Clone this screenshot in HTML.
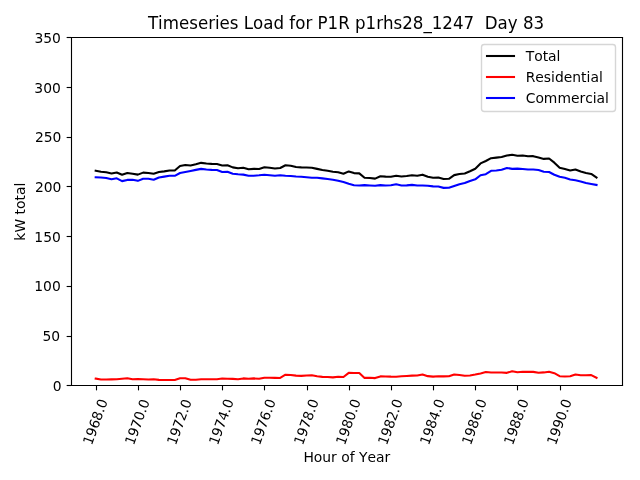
<!DOCTYPE html><html><head><meta charset="utf-8"><title>Timeseries Load</title><style>html,body{margin:0;padding:0;background:#fff;overflow:hidden}svg{display:block;will-change:transform}text{font-family:"DejaVu Sans","Liberation Sans",sans-serif;font-kerning:none;white-space:pre}</style></head><body>
<svg width="640" height="480" viewBox="0 0 640 480">
<rect x="0" y="0" width="640" height="480" fill="#ffffff"/>
<g fill="none" stroke-width="2.0833" stroke-linejoin="round" stroke-linecap="square">
<polyline stroke="#000000" points="95.68,170.66 100.95,171.79 106.22,172.32 111.50,173.41 116.77,172.42 122.04,174.69 127.31,172.96 132.58,173.82 137.86,174.61 143.13,172.62 148.40,173.04 153.67,173.74 158.94,172.06 164.22,171.36 169.49,170.54 174.76,170.54 180.03,165.99 185.30,165.02 190.58,165.57 195.85,164.34 201.12,162.87 206.39,163.54 211.66,163.91 216.94,163.97 222.21,165.42 227.48,165.34 232.75,167.39 238.02,168.29 243.30,167.79 248.57,169.22 253.84,168.89 259.11,168.92 264.38,167.26 269.66,167.79 274.93,168.49 280.20,167.99 285.47,165.27 290.74,165.72 296.02,166.96 301.29,167.39 306.56,167.49 311.83,167.72 317.10,168.89 322.38,170.02 327.65,170.82 332.92,171.79 338.19,172.26 343.46,173.82 348.74,171.42 354.01,173.09 359.28,173.36 364.55,177.79 369.82,178.01 375.10,178.59 380.37,176.29 385.64,176.64 390.91,176.74 396.18,175.79 401.46,176.51 406.73,176.07 412.00,175.26 417.27,175.72 422.54,174.66 427.82,176.74 433.09,177.76 438.36,177.59 443.63,179.02 448.90,178.79 454.18,175.12 459.45,174.02 464.72,173.49 469.99,171.26 475.26,168.69 480.54,163.39 485.81,160.96 491.08,158.17 496.35,157.66 501.62,157.06 506.90,155.56 512.17,154.81 517.44,155.71 522.71,155.44 527.98,156.19 533.26,156.14 538.53,157.56 543.80,158.89 549.07,158.54 554.34,162.69 559.62,167.79 564.89,169.01 570.16,170.54 575.43,169.59 580.70,171.57 585.98,173.02 591.25,173.91 596.52,177.46"/>
<polyline stroke="#ff0000" points="95.68,378.60 100.95,379.56 106.22,379.53 111.50,379.40 116.77,379.33 122.04,378.81 127.31,378.30 132.58,379.33 137.86,379.00 143.13,379.18 148.40,379.46 153.67,379.26 158.94,379.85 164.22,379.95 169.49,379.96 174.76,379.96 180.03,378.21 185.30,378.23 190.58,379.83 195.85,379.71 201.12,379.23 206.39,379.31 211.66,379.25 216.94,379.18 222.21,378.58 227.48,378.81 232.75,378.91 238.02,379.21 243.30,378.41 248.57,378.73 253.84,378.41 259.11,378.83 264.38,377.70 269.66,377.76 274.93,377.91 280.20,377.96 285.47,374.73 290.74,375.03 296.02,375.65 301.29,375.86 306.56,375.46 311.83,375.28 317.10,376.31 322.38,376.88 327.65,377.03 332.92,377.36 338.19,376.75 343.46,376.98 348.74,372.88 354.01,373.01 359.28,373.05 364.55,377.91 369.82,377.80 375.10,378.11 380.37,376.41 385.64,376.46 390.91,376.66 396.18,376.71 401.46,376.30 406.73,375.93 412.00,375.65 417.27,375.53 422.54,374.45 427.82,376.16 433.09,376.60 438.36,376.31 443.63,376.38 448.90,376.31 454.18,374.43 459.45,375.03 464.72,375.76 469.99,375.55 475.26,374.56 480.54,373.41 485.81,372.05 491.08,372.58 496.35,372.45 501.62,372.55 506.90,372.85 512.17,371.20 517.44,372.30 522.71,371.76 527.98,371.91 533.26,371.86 538.53,372.75 543.80,372.41 549.07,371.81 554.34,373.21 559.62,376.21 564.89,376.45 570.16,376.31 575.43,374.56 580.70,375.28 585.98,375.23 591.25,375.15 596.52,377.75"/>
<polyline stroke="#0000ff" points="95.68,177.30 100.95,177.47 106.22,178.03 111.50,179.25 116.77,178.33 122.04,181.12 127.31,179.90 132.58,179.73 137.86,180.85 143.13,178.68 148.40,178.82 153.67,179.72 158.94,177.45 164.22,176.65 169.49,175.82 174.76,175.82 180.03,173.02 185.30,172.03 190.58,170.98 195.85,169.87 201.12,168.88 206.39,169.47 211.66,169.90 216.94,170.03 222.21,172.08 227.48,171.77 232.75,173.72 238.02,174.32 243.30,174.62 248.57,175.73 253.84,175.72 259.11,175.33 264.38,174.80 269.66,175.27 274.93,175.82 280.20,175.27 285.47,175.78 290.74,175.93 296.02,176.55 301.29,176.77 306.56,177.27 311.83,177.68 317.10,177.82 322.38,178.38 327.65,179.03 332.92,179.67 338.19,180.75 343.46,182.08 348.74,183.78 354.01,185.32 359.28,185.55 364.55,185.12 369.82,185.45 375.10,185.72 380.37,185.12 385.64,185.42 390.91,185.32 396.18,184.32 401.46,185.45 406.73,185.38 412.00,184.85 417.27,185.43 422.54,185.45 427.82,185.82 433.09,186.40 438.36,186.52 443.63,187.88 448.90,187.72 454.18,185.93 459.45,184.23 464.72,182.97 469.99,180.95 475.26,179.37 480.54,175.22 485.81,174.15 491.08,170.83 496.35,170.45 501.62,169.75 506.90,167.95 512.17,168.85 517.44,168.65 522.71,168.92 527.98,169.52 533.26,169.52 538.53,170.05 543.80,171.72 549.07,171.97 554.34,174.72 559.62,176.82 564.89,177.80 570.16,179.47 575.43,180.27 580.70,181.53 585.98,183.03 591.25,184.00 596.52,184.95"/>
</g>
<g stroke="#000000" stroke-width="1.1111" stroke-linecap="square" fill="none">
<line x1="71.5" y1="385.5" x2="71.5" y2="37.5"/><line x1="622.5" y1="385.5" x2="622.5" y2="37.5"/>
<line x1="71.5" y1="385.5" x2="622.5" y2="385.5"/><line x1="71.5" y1="37.5" x2="622.5" y2="37.5"/>
</g>
<g stroke="#000000" stroke-width="1.1111" stroke-linecap="butt">
<line x1="96.5" y1="385.5" x2="96.5" y2="390.361"/>
<line x1="138.5" y1="385.5" x2="138.5" y2="390.361"/>
<line x1="180.5" y1="385.5" x2="180.5" y2="390.361"/>
<line x1="222.5" y1="385.5" x2="222.5" y2="390.361"/>
<line x1="264.5" y1="385.5" x2="264.5" y2="390.361"/>
<line x1="307.5" y1="385.5" x2="307.5" y2="390.361"/>
<line x1="349.5" y1="385.5" x2="349.5" y2="390.361"/>
<line x1="391.5" y1="385.5" x2="391.5" y2="390.361"/>
<line x1="433.5" y1="385.5" x2="433.5" y2="390.361"/>
<line x1="475.5" y1="385.5" x2="475.5" y2="390.361"/>
<line x1="517.5" y1="385.5" x2="517.5" y2="390.361"/>
<line x1="560.5" y1="385.5" x2="560.5" y2="390.361"/>
<line x1="71.5" y1="37.5" x2="66.639" y2="37.5"/>
<line x1="71.5" y1="87.5" x2="66.639" y2="87.5"/>
<line x1="71.5" y1="137.5" x2="66.639" y2="137.5"/>
<line x1="71.5" y1="186.5" x2="66.639" y2="186.5"/>
<line x1="71.5" y1="236.5" x2="66.639" y2="236.5"/>
<line x1="71.5" y1="286.5" x2="66.639" y2="286.5"/>
<line x1="71.5" y1="336.5" x2="66.639" y2="336.5"/>
<line x1="71.5" y1="385.5" x2="66.639" y2="385.5"/>
</g>
<g font-size="13.8889" fill="#000000">
<text transform="translate(91.471 446.510) rotate(-70) translate(0.82 0) scale(0.976 1)">1968.0</text>
<text transform="translate(133.457 446.620) rotate(-70) translate(0.82 0) scale(0.976 1)">1970.0</text>
<text transform="translate(175.453 446.620) rotate(-70) translate(0.82 0) scale(0.976 1)">1972.0</text>
<text transform="translate(217.369 446.580) rotate(-70) translate(0.82 0) scale(0.976 1)">1974.0</text>
<text transform="translate(259.405 446.580) rotate(-70) translate(0.82 0) scale(0.976 1)">1976.0</text>
<text transform="translate(302.421 446.530) rotate(-70) translate(0.82 0) scale(0.976 1)">1978.0</text>
<text transform="translate(344.437 446.550) rotate(-70) translate(0.82 0) scale(0.976 1)">1980.0</text>
<text transform="translate(386.493 446.560) rotate(-70) translate(0.82 0) scale(0.976 1)">1982.0</text>
<text transform="translate(428.419 446.510) rotate(-70) translate(0.82 0) scale(0.976 1)">1984.0</text>
<text transform="translate(470.385 446.550) rotate(-70) translate(0.82 0) scale(0.976 1)">1986.0</text>
<text transform="translate(512.431 446.490) rotate(-70) translate(0.82 0) scale(0.976 1)">1988.0</text>
<text transform="translate(555.427 446.510) rotate(-70) translate(0.82 0) scale(0.976 1)">1990.0</text>
<text x="61.683" y="390.608" text-anchor="end">0</text>
<text x="60.143" y="340.907" text-anchor="end">50</text>
<text x="60.773" y="291.166" text-anchor="end">100</text>
<text x="60.823" y="242.465" text-anchor="end">150</text>
<text x="61.433" y="191.763" text-anchor="end">200</text>
<text x="61.443" y="142.062" text-anchor="end">250</text>
<text x="60.853" y="93.361" text-anchor="end">300</text>
<text x="60.883" y="42.660" text-anchor="end">350</text>
<text x="346.803" y="462.337" text-anchor="middle">Hour of Year</text>
<text transform="translate(25.278 211.687) rotate(-90)" text-anchor="middle">kW total</text>
</g>
<text transform="translate(346.002 28.600) scale(1 1.08)" text-anchor="middle" font-size="16.6667" fill="#000000">Timeseries Load for P1R p1rhs28_1247  Day 83</text>
<path d="M484.278,111.5 L612.722,111.5 Q615.5,111.5 615.5,108.722 L615.5,47.278 Q615.5,44.5 612.722,44.5 L484.278,44.5 Q481.5,44.5 481.5,47.278 L481.5,108.722 Q481.5,111.5 484.278,111.5 Z" fill="#ffffff" fill-opacity="0.8" stroke="#cccccc" stroke-opacity="0.8" stroke-width="1.3889"/>
<line x1="487.0" y1="56.0" x2="514.0" y2="56.0" stroke="#000000" stroke-width="2.0833" stroke-linecap="square"/>
<text x="525.688" y="61.447" font-size="13.8889" fill="#000000">Total</text>
<line x1="487.0" y1="77.0" x2="514.0" y2="77.0" stroke="#ff0000" stroke-width="2.0833" stroke-linecap="square"/>
<text x="525.688" y="81.833" font-size="13.8889" fill="#000000">Residential</text>
<line x1="487.0" y1="98.0" x2="514.0" y2="98.0" stroke="#0000ff" stroke-width="2.0833" stroke-linecap="square"/>
<text x="525.688" y="103.219" font-size="13.8889" fill="#000000">Commercial</text>
</svg></body></html>
